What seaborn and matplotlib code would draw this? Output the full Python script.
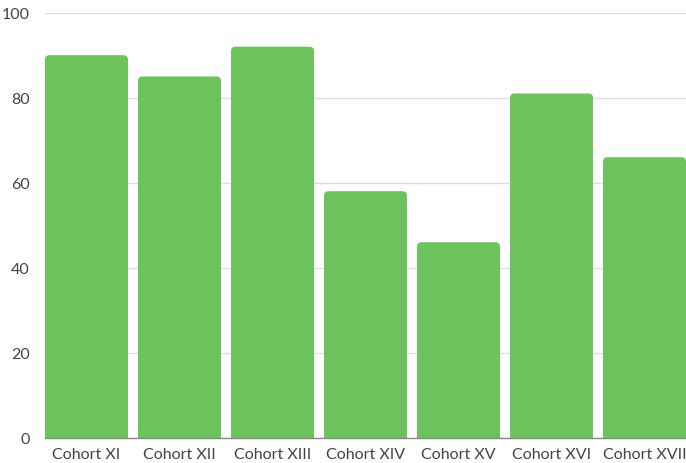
import matplotlib
matplotlib.use("Agg")
import matplotlib.pyplot as plt
import seaborn as sns
import pandas as pd
from matplotlib.patches import FancyBboxPatch

categories = ["Cohort XI", "Cohort XII", "Cohort XIII", "Cohort XIV", "Cohort XV", "Cohort XVI", "Cohort XVII"]
values = [90, 85, 92, 58, 46, 81, 66]
yticks = [0, 20, 40, 60, 80, 100]

sns.set_theme(style="white")
plt.rcParams['font.family'] = ['Lato', 'DejaVu Sans']

df = pd.DataFrame({"cohort": categories, "value": values})

fig = plt.figure(figsize=(6.86, 4.64), dpi=100)
ax = fig.add_axes([45/686, 25.3/464, 641/686, 425/464])

W = 0.892
color = "#6DC35B"
sns.barplot(data=df, x="cohort", y="value", color=color, width=W, ax=ax, saturation=1)

ax.set_xlim(-W/2, len(categories) - 1 + W/2)
ax.set_ylim(0, 100)

# replace bars with rounded ones
px_x = 641 / (len(categories) - 1 + W)
px_y = 425 / 100
r_px = 4.5
for p in list(ax.patches):
    x0, w, h = p.get_x(), p.get_width(), p.get_height()
    p.remove()
    fb = FancyBboxPatch((x0, -3), w, h + 3,
                        boxstyle=f"round,pad=0,rounding_size={r_px/px_x}",
                        mutation_aspect=(r_px/px_y)/(r_px/px_x),
                        facecolor=color, edgecolor="none", zorder=2)
    ax.add_patch(fb)

ax.set_yticks(yticks)
ax.set_yticklabels([str(t) for t in yticks])
ax.yaxis.grid(True, color="#dddddd", linewidth=1)
ax.set_axisbelow(True)
ax.set_xlabel("")
ax.set_ylabel("")
for s in ["top", "right", "left"]:
    ax.spines[s].set_visible(False)
ax.spines["bottom"].set_color("#888888")
ax.spines["bottom"].set_linewidth(1)
ax.spines["bottom"].set_zorder(3)
ax.tick_params(axis="y", length=0, pad=11, labelsize=11.5, labelcolor="#444444")
ax.tick_params(axis="x", length=0, pad=6.5, labelsize=11.5, labelcolor="#444444")

fig.savefig("out.png", dpi=100)
